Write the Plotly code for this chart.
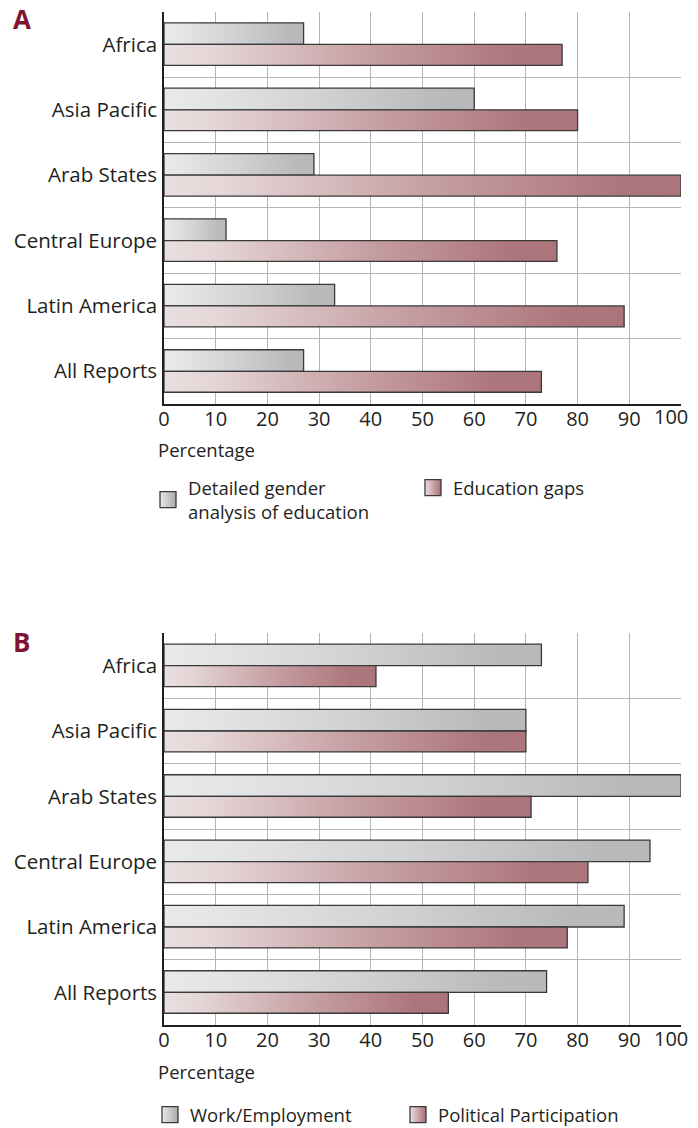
import plotly.graph_objects as go

regions = ["Africa", "Asia Pacific", "Arab States", "Central Europe", "Latin America", "All Reports"]
gender_analysis = [27, 60, 29, 12, 33, 27]
education_gaps = [77, 80, 100, 76, 89, 73]
work_employment = [73, 70, 100, 94, 89, 74]
political_participation = [41, 70, 71, 82, 78, 55]
x_ticks = list(range(0, 101, 10))

GRAY_SCALE = [[0, "#e8e9ea"], [0.12, "#e4e5e6"], [0.5, "#d1d2d4"], [0.88, "#b9babc"], [1, "#b8b9bb"]]
PINK_SCALE = [[0, "#e9dfe0"], [0.12, "#e5d6d7"], [0.5, "#c7a1a5"], [0.88, "#ad767c"], [1, "#ac757b"]]
OUTLINE = "#3a3a3a"
TEXT = "#231f20"
GRID = "#b5b5b5"
FONT = "Open Sans"

# the page body adds an 8px margin, so the figure is 8px smaller each way
W, H = 690, 1120


def px(x):
    return (x - 8) / W


def py(y):
    return 1 - (y - 8) / H


def add_bars(fig, values, lo, hi, scale, xaxis, yaxis):
    # one filled polygon per bar so each bar gets its own gradient
    for i, v in enumerate(values):
        fig.add_trace(
            go.Scatter(
                x=[0, v, v, 0, 0],
                y=[i + lo, i + lo, i + hi, i + hi, i + lo],
                mode="lines",
                fill="toself",
                fillgradient=dict(type="horizontal", colorscale=scale),
                line=dict(color=OUTLINE, width=1.3),
                xaxis=xaxis,
                yaxis=yaxis,
                showlegend=False,
                hoverinfo="skip",
            )
        )


def add_key(fig, name, light, dark, legend):
    fig.add_trace(
        go.Scatter(
            x=[None],
            y=[None],
            mode="markers",
            name=name,
            marker=dict(
                symbol="square",
                size=16,
                color=light,
                gradient=dict(type="horizontal", color=dark),
                line=dict(color=OUTLINE, width=1.3),
            ),
            legend=legend,
        )
    )


fig = go.Figure()
add_bars(fig, gender_analysis, -0.33, 0, GRAY_SCALE, "x", "y")
add_bars(fig, education_gaps, 0, 0.32, PINK_SCALE, "x", "y")
add_bars(fig, work_employment, -0.33, 0, GRAY_SCALE, "x2", "y2")
add_bars(fig, political_participation, 0, 0.32, PINK_SCALE, "x2", "y2")

add_key(fig, "Detailed gender<br>analysis of education", "#e8e9ea", "#a9aaac", "legend")
add_key(fig, "Education gaps", "#ecdfe1", "#a86e75", "legend")
add_key(fig, "Work/Employment", "#e8e9ea", "#a9aaac", "legend2")
add_key(fig, "Political Participation", "#ecdfe1", "#a86e75", "legend2")

# last tick label sits at the window edge; it is drawn as an annotation nudged inward
last = x_ticks[-1]
tick_text = [str(t) if t != last else "" for t in x_ticks]

xax = dict(
    range=[0, 100],
    tickvals=x_ticks,
    ticktext=tick_text,
    showgrid=True,
    gridcolor=GRID,
    gridwidth=1,
    zeroline=False,
    showline=True,
    linecolor=TEXT,
    linewidth=1.6,
    ticks="",
    automargin=False,
    ticklabelstandoff=-4,
    tickfont=dict(size=20, color=TEXT),
    domain=[px(164), px(681)],
)
yax = dict(
    range=[5.5, -0.5],
    tickvals=list(range(len(regions))),
    ticktext=regions,
    showgrid=False,
    zeroline=False,
    showline=True,
    linecolor=TEXT,
    linewidth=1.6,
    ticks="",
    automargin=False,
    ticklabelstandoff=1,
    tickfont=dict(size=20.5, color=TEXT),
    minor=dict(tickvals=[k - 0.5 for k in range(len(regions) + 1)], showgrid=True,
               gridcolor=GRID, gridwidth=1, ticks=""),
)

legend_style = dict(
    orientation="h",
    xanchor="left",
    yanchor="top",
    font=dict(size=18.5, color=TEXT),
    itemsizing="trace",
    valign="middle",
    bgcolor="rgba(0,0,0,0)",
)

annotations = [
    dict(text="<b>A</b>", x=px(11), y=py(19), xref="paper", yref="paper",
         xanchor="left", yanchor="middle", showarrow=False,
         font=dict(size=26, color="#7f1437")),
    dict(text="<b>B</b>", x=px(11), y=py(642), xref="paper", yref="paper",
         xanchor="left", yanchor="middle", showarrow=False,
         font=dict(size=26, color="#7f1437")),
    dict(text="Percentage", x=px(156), y=py(449), xref="paper", yref="paper",
         xanchor="left", yanchor="middle", showarrow=False, font=dict(size=18.5, color=TEXT)),
    dict(text="Percentage", x=px(156), y=py(1071), xref="paper", yref="paper",
         xanchor="left", yanchor="middle", showarrow=False, font=dict(size=18.5, color=TEXT)),
]
for xref, ylab in (("x", 416), ("x2", 1038)):
    annotations.append(
        dict(text=str(last), x=last, xref=xref, y=py(ylab), yref="paper",
             xanchor="right", yanchor="middle", xshift=9, showarrow=False,
             font=dict(size=20, color=TEXT))
    )

fig.update_layout(
    width=W,
    height=H,
    autosize=False,
    margin=dict(l=0, r=0, t=0, b=0, autoexpand=False),
    paper_bgcolor="white",
    plot_bgcolor="white",
    font=dict(family=FONT, color=TEXT),
    xaxis=dict(xax, anchor="y"),
    yaxis=dict(yax, anchor="x", domain=[py(404), py(11.7)]),
    xaxis2=dict(xax, anchor="y2"),
    yaxis2=dict(yax, anchor="x2", domain=[py(1025), py(633)]),
    legend=dict(legend_style, x=px(148), y=py(469), entrywidth=220),
    legend2=dict(legend_style, x=px(150), y=py(1096), entrywidth=203),
    annotations=annotations,
)

fig.write_html("out.html")
